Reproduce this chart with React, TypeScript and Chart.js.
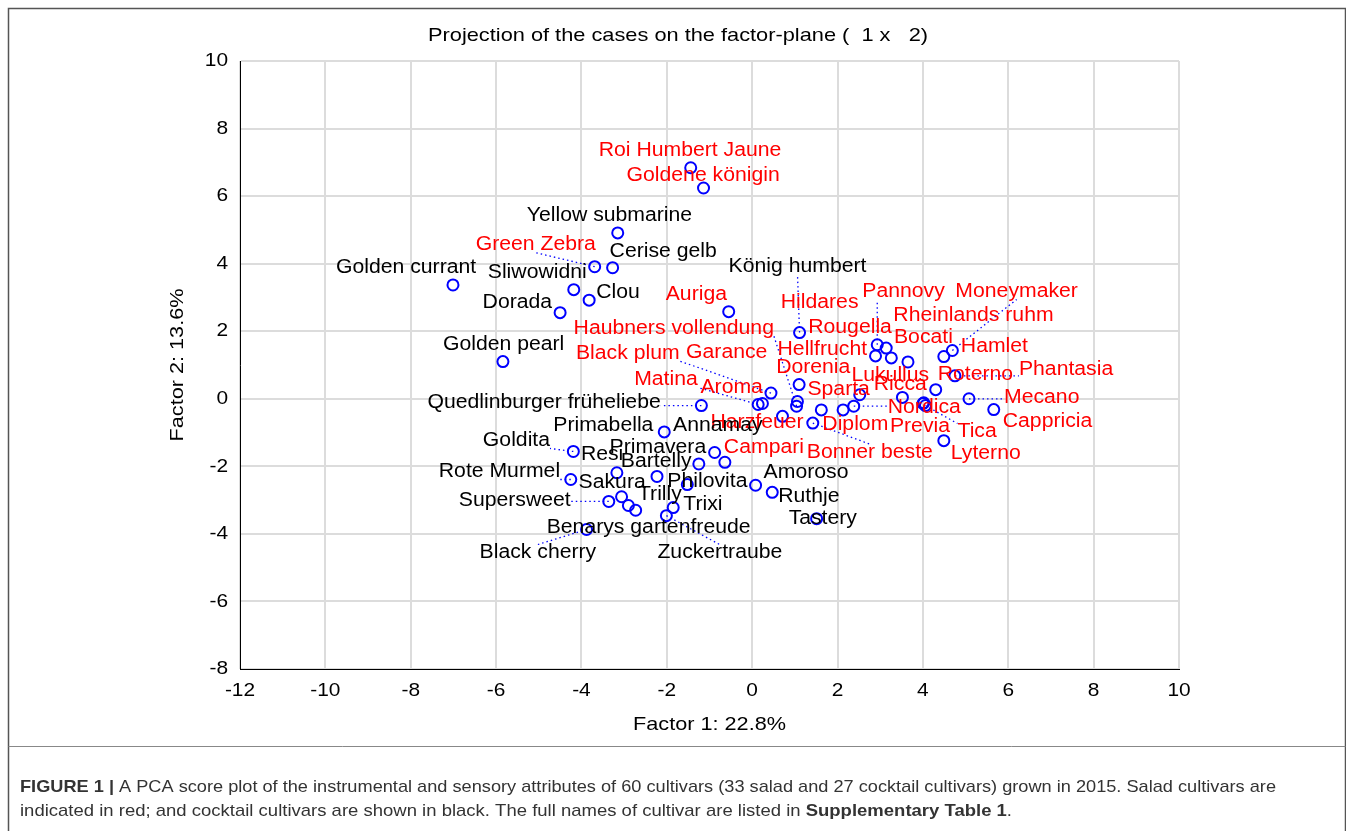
import React, { useEffect, useRef } from "react";
import { Chart, registerables } from "chart.js";

Chart.register(...registerables);

// ---------- DATA ----------
// Salad cultivars (red labels)
const SALAD_NAMES = [
  "Roi Humbert Jaune", "Goldene königin", "Green Zebra", "Auriga", "Haubners vollendung",
  "Black plum", "Garance", "Hildares", "Rougella", "Hellfrucht", "Pannovy", "Moneymaker",
  "Rheinlands ruhm", "Bocati", "Hamlet", "Dorenia", "Matina", "Aroma", "Sparta", "Lukullus",
  "Ricca", "Roterno", "Phantasia", "Mecano", "Nordica", "Harzfeuer", "Diplom", "Previa",
  "Tica", "Cappricia", "Campari", "Bonner beste", "Lyterno",
];
const SALAD_F1 = [
  -1.44, -1.14, -3.69, -0.55, 1.04, 0.44, 2.13, 2.52, 3.14, 2.89, 2.93, 4.69, 3.26, 3.65, 4.49,
  1.10, 0.14, 0.24, 1.06, 3.52, 4.02, 4.30, 4.75, 5.08, 2.38, 0.71, 1.62, 4.00, 4.06, 5.66,
  -0.64, 1.42, 4.49,
];
const SALAD_F2 = [
  6.84, 6.24, 3.91, 2.58, -0.22, 0.17, -0.33, 0.12, 1.50, 1.27, 1.60, 1.43, 1.21, 1.09, 1.25,
  0.42, -0.17, -0.14, -0.08, 0.04, -0.12, 0.27, 0.68, 0.0, -0.22, -0.52, -0.33, -0.14, -0.20,
  -0.32, -1.88, -0.72, -1.24,
];

// Cocktail cultivars (black labels)
const COCKTAIL_NAMES = [
  "Yellow submarine", "Cerise gelb", "Golden currant", "Sliwowidni", "Clou", "Dorada",
  "Golden pearl", "König humbert", "Quedlinburger früheliebe", "Primabella", "Annamay",
  "Goldita", "Resi", "Primavera", "Bartelly", "Rote Murmel", "Sakura", "Philovita", "Trilly",
  "Supersweet", "Trixi", "Amoroso", "Ruthje", "Tastery", "Benarys gartenfreude",
  "Black cherry", "Zuckertraube",
];
const COCKTAIL_F1 = [
  -3.15, -3.27, -7.01, -4.18, -3.82, -4.50, -5.84, 1.11, -1.19, -2.06, -2.23, -4.19, -3.17,
  -0.88, -1.25, -4.25, -3.06, -1.52, -2.90, -3.36, -1.85, 0.08, 0.47, 1.51, -2.73, -3.88, -2.01,
];
const COCKTAIL_F2 = [
  4.91, 3.88, 3.37, 3.23, 2.92, 2.55, 1.10, 1.96, -0.20, -0.98, -2.30, -1.56, -2.19, -1.59,
  -1.93, -2.39, -2.90, -2.54, -3.16, -3.04, -3.22, -2.56, -2.77, -3.55, -3.30, -3.87, -3.46,
];

const X_MIN = -12, X_MAX = 10, Y_MIN = -8, Y_MAX = 10, STEP = 2;

const TITLE = "Projection of the cases on the factor-plane (  1 x   2)";
const X_TITLE = "Factor 1: 22.8%";
const Y_TITLE = "Factor 2: 13.6%";

// ---------- LAYOUT (label placement, px offsets: left edge, vertical middle) ----------
const SALAD_LABEL_OFFSETS: [number, number][] = [
  [-92, -17], [-77, -13], [-119, -22], [-63, -17], [-223, -78], [-195, -40], [-157, -57],
  [-79, -92], [-78, -21], [-98, -6], [-15, -53], [3, -59], [2, -42], [-14, -24], [17, -10],
  [-23, -17], [-124, -25], [-62, -16], [10, -12], [-51, -22], [-50, -18], [2, -15], [64, -6],
  [35, -1], [34, 1], [-72, 6], [1, 15], [-33, 23], [32, 26], [9, 12], [-1, -14.5], [-6, 29],
  [7, 13],
];
const COCKTAIL_LABEL_OFFSETS: [number, number][] = [
  [-91, -17], [-3, -16], [-117, -17], [-86, -17], [7, -8], [-77.5, -10], [-60, -17],
  [-71, -66], [-274, -3], [-111, -6], [16, -51], [-90.5, -11], [-36, -18], [-105, -5],
  [-78, -2.5], [-132, -8], [-43, -14], [-20, -3], [9.5, -11], [-150, -1], [10, -3], [8, -13],
  [6, 4], [-28, 0], [-89, 17], [-107, 23], [-9, 37],
];
const LEADERS: Record<string, "c" | "n"> = {
  "Green Zebra": "c", "König humbert": "c", "Black cherry": "c", "Zuckertraube": "c",
  "Bonner beste": "c", "Moneymaker": "c", "Quedlinburger früheliebe": "n", "Goldita": "n",
  "Rote Murmel": "n", "Supersweet": "n", "Haubners vollendung": "n", "Black plum": "n",
  "Matina": "n", "Pannovy": "n", "Phantasia": "n", "Mecano": "n", "Nordica": "n", "Tica": "n",
};

const FONT = '"Liberation Sans", Arial, Helvetica, sans-serif';

function drawText(
  ctx: CanvasRenderingContext2D,
  text: string,
  x: number,
  y: number,
  size: number,
  stretch: number,
  align: "left" | "center" | "right",
  color: string,
  bold = false
) {
  ctx.save();
  ctx.font = `${bold ? "bold " : ""}${size}px ${FONT}`;
  ctx.fillStyle = color;
  ctx.textBaseline = "middle";
  ctx.textAlign = "left";
  const w = ctx.measureText(text).width * stretch;
  let left = x;
  if (align === "center") left = x - w / 2;
  else if (align === "right") left = x - w;
  ctx.translate(left, y);
  ctx.scale(stretch, 1);
  ctx.fillText(text, 0, 0);
  ctx.restore();
  return w;
}

function drawFitted(
  ctx: CanvasRenderingContext2D,
  segs: { t: string; bold?: boolean }[],
  left: number,
  y: number,
  size: number,
  targetW: number,
  color: string
) {
  ctx.save();
  let total = 0;
  for (const s of segs) {
    ctx.font = `${s.bold ? "bold " : ""}${size}px ${FONT}`;
    total += ctx.measureText(s.t).width;
  }
  const k = targetW / total;
  let x = left;
  for (const s of segs) {
    ctx.font = `${s.bold ? "bold " : ""}${size}px ${FONT}`;
    const w = ctx.measureText(s.t).width;
    ctx.fillStyle = color;
    ctx.textBaseline = "middle";
    ctx.textAlign = "left";
    ctx.save();
    ctx.translate(x, y);
    ctx.scale(k, 1);
    ctx.fillText(s.t, 0, 0);
    ctx.restore();
    x += w * k;
  }
  ctx.restore();
}

const LABEL_SIZE = 20;
const LABEL_STRETCH = 1.06;

const overlayPlugin = {
  id: "overlay",
  afterDraw(chart: any) {
    const ctx: CanvasRenderingContext2D = chart.ctx;
    const xs = chart.scales.x;
    const ys = chart.scales.y;
    const area = chart.chartArea;

    // tick labels
    for (const t of xs.ticks) {
      drawText(ctx, String(t.value), xs.getPixelForValue(t.value), area.bottom + 22, 19, 1.1, "center", "#000");
    }
    for (const t of ys.ticks) {
      drawText(ctx, String(t.value), area.left - 12, ys.getPixelForValue(t.value), 19, 1.1, "right", "#000");
    }

    // title and axis titles
    ctx.save();
    ctx.font = `19px ${FONT}`;
    const tw = ctx.measureText(TITLE).width;
    ctx.restore();
    drawText(ctx, TITLE, 678, 36, 19, 500 / tw, "center", "#000");
    ctx.save();
    ctx.font = `19px ${FONT}`;
    const xw = ctx.measureText(X_TITLE).width;
    ctx.restore();
    drawText(ctx, X_TITLE, (area.left + area.right) / 2, 725, 19, 153 / xw, "center", "#000");
    ctx.save();
    ctx.translate(178, (area.top + area.bottom) / 2);
    ctx.rotate(-Math.PI / 2);
    drawText(ctx, Y_TITLE, 0, 0, 19, 153 / xw, "center", "#000");
    ctx.restore();

    // point labels and leaders
    const groups = [
      { names: SALAD_NAMES, fx: SALAD_F1, fy: SALAD_F2, off: SALAD_LABEL_OFFSETS, color: "#ff0000" },
      { names: COCKTAIL_NAMES, fx: COCKTAIL_F1, fy: COCKTAIL_F2, off: COCKTAIL_LABEL_OFFSETS, color: "#000000" },
    ];
    ctx.save();
    ctx.font = `${LABEL_SIZE}px ${FONT}`;
    for (const g of groups) {
      g.names.forEach((name, i) => {
        const mode = LEADERS[name];
        if (!mode) return;
        const px = xs.getPixelForValue(g.fx[i]);
        const py = ys.getPixelForValue(g.fy[i]);
        const w = ctx.measureText(name).width * LABEL_STRETCH;
        const l = px + g.off[i][0];
        const r = l + w;
        const cy = py + g.off[i][1];
        const t = cy - 8;
        const b = cy + 8;
        let ax: number, ay: number;
        if (mode === "c") {
          ax = (l + r) / 2;
          ay = py < t ? t : py > b ? b : cy;
        } else {
          ax = Math.min(Math.max(px, l), r);
          ay = Math.min(Math.max(py, t), b);
        }
        ctx.save();
        ctx.strokeStyle = "#0000ff";
        ctx.lineWidth = 1.3;
        ctx.setLineDash([1.5, 3]);
        ctx.beginPath();
        ctx.moveTo(px, py);
        ctx.lineTo(ax, ay);
        ctx.stroke();
        ctx.restore();
      });
    }
    ctx.restore();
    for (const g of groups) {
      g.names.forEach((name, i) => {
        const px = xs.getPixelForValue(g.fx[i]);
        const py = ys.getPixelForValue(g.fy[i]);
        drawText(ctx, name, px + g.off[i][0], py + g.off[i][1], LABEL_SIZE, LABEL_STRETCH, "left", g.color);
      });
    }

    // figure frame
    ctx.save();
    ctx.strokeStyle = "#555";
    ctx.lineWidth = 1.5;
    ctx.beginPath();
    ctx.moveTo(8.5, 831);
    ctx.lineTo(8.5, 8.5);
    ctx.lineTo(1345.5, 8.5);
    ctx.lineTo(1345.5, 831);
    ctx.stroke();
    ctx.lineWidth = 1;
    ctx.strokeStyle = "#888";
    ctx.beginPath();
    ctx.moveTo(8.5, 746.5);
    ctx.lineTo(1345.5, 746.5);
    ctx.stroke();
    ctx.restore();

    // caption
    drawFitted(
      ctx,
      [
        { t: "FIGURE 1 |", bold: true },
        { t: " A PCA score plot of the instrumental and sensory attributes of 60 cultivars (33 salad and 27 cocktail cultivars) grown in 2015. Salad cultivars are" },
      ],
      20, 787, 17, 1256, "#333"
    );
    drawFitted(
      ctx,
      [
        { t: "indicated in red; and cocktail cultivars are shown in black. The full names of cultivar are listed in " },
        { t: "Supplementary Table 1", bold: true },
        { t: "." },
      ],
      20, 811, 17, 992, "#333"
    );
  },
};

export default function App() {
  const ref = useRef<HTMLCanvasElement | null>(null);
  useEffect(() => {
    if (!ref.current) return;
    const mk = (fx: number[], fy: number[]) => fx.map((x, i) => ({ x, y: fy[i] }));
    const pointStyle = {
      pointStyle: "circle",
      pointRadius: 5.5,
      pointBorderWidth: 2,
      pointBorderColor: "#0000ff",
      pointBackgroundColor: "rgba(0,0,0,0)",
      showLine: false,
    };
    const chart = new Chart(ref.current, {
      type: "scatter",
      data: {
        datasets: [
          { label: "Salad", data: mk(SALAD_F1, SALAD_F2), ...pointStyle } as any,
          { label: "Cocktail", data: mk(COCKTAIL_F1, COCKTAIL_F2), ...pointStyle } as any,
        ],
      },
      options: {
        responsive: false,
        animation: false,
        layout: { padding: { left: 240, top: 61, right: 167, bottom: 162 } },
        plugins: { legend: { display: false }, title: { display: false }, tooltip: { enabled: false } },
        scales: {
          x: {
            type: "linear",
            min: X_MIN,
            max: X_MAX,
            ticks: { display: false, stepSize: STEP },
            grid: { color: "#dcdcdc", lineWidth: 2, drawTicks: false },
            border: { display: true, color: "#000", width: 1 },
          },
          y: {
            type: "linear",
            min: Y_MIN,
            max: Y_MAX,
            ticks: { display: false, stepSize: STEP },
            grid: { color: "#dcdcdc", lineWidth: 2, drawTicks: false },
            border: { display: true, color: "#000", width: 1 },
          },
        },
      },
      plugins: [overlayPlugin],
    });
    return () => chart.destroy();
  }, []);
  return (
    <div style={{ position: "absolute", left: 0, top: 0, width: 1346, height: 831, background: "#fff" }}>
      <canvas ref={ref} width={1346} height={831} style={{ display: "block" }} />
    </div>
  );
}
